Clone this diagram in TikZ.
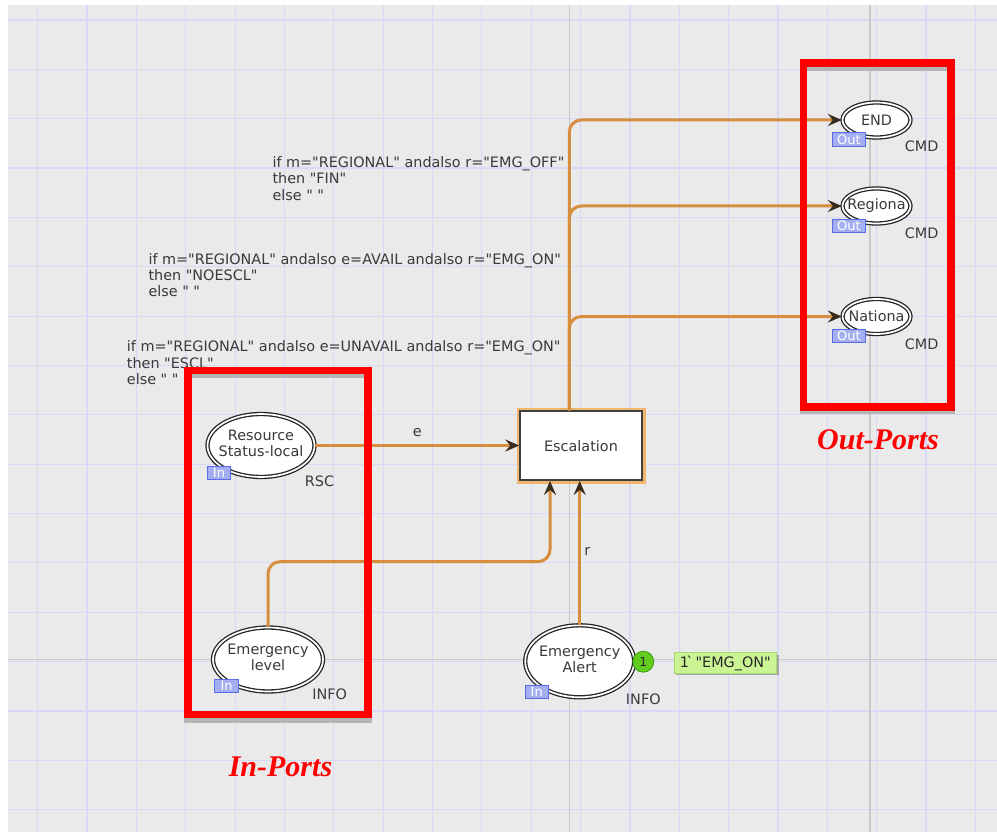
\documentclass[tikz,border=0pt]{standalone}
\usepackage{fontspec}
\newfontfamily\cpnfont{DejaVu Sans}[Ligatures=TeXOff]
\newfontfamily\portfont{Liberation Serif}
\usetikzlibrary{arrows.meta,shapes.geometric}
\definecolor{bggray}{HTML}{EAEAEA}
\definecolor{gridblue}{HTML}{D9D9F7}
\definecolor{majgray}{HTML}{C9C9C9}
\definecolor{arcorange}{HTML}{D68D3E}
\definecolor{tipdark}{HTML}{3A2C1C}
\definecolor{txtgray}{HTML}{3A3A3A}
\definecolor{tagfill}{HTML}{A3AFF2}
\definecolor{tagdraw}{HTML}{5A6CE6}
\definecolor{tokgreen}{HTML}{62CC1E}
\definecolor{tokedge}{HTML}{3E9A12}
\definecolor{markgreen}{HTML}{CBF595}
\definecolor{markedge}{HTML}{A6DA6A}
\definecolor{glow}{HTML}{F2A444}
\definecolor{selgray}{HTML}{B5B5B5}
\newcommand\cpnsize{\fontsize{14.4}{16.4}\selectfont}
\newcommand\cpntwo[2]{\makebox[0pt]{\begin{tabular}{@{}c@{}}#1\\#2\end{tabular}}}
\newcommand\cpnone[1]{\makebox[0pt]{#1}}
\newcommand\cpnthree[3]{\begin{tabular}[t]{@{}l@{}}#1\\#2\\#3\end{tabular}}
\begin{document}
\begin{tikzpicture}[x=1pt,y=-1pt,
  every node/.style={font=\cpnfont\cpnsize, text=txtgray, inner sep=0pt},
  place/.style={ellipse, draw=black!85, line width=1.3pt, double=white, double distance=1.7pt, fill=white},
  trans/.style={rectangle, draw=black!75, line width=1.5pt, fill=white, minimum width=122pt, minimum height=69pt, preaction={draw=glow, line width=7pt, opacity=0.75}},
  arc/.style={draw=arcorange, line width=3pt, rounded corners=12pt, -{Stealth[length=14pt,width=12pt,inset=5pt,color=tipdark,fill=tipdark]}},
  porttag/.style={rectangle, draw=tagdraw, fill=tagfill, line width=0.9pt, text=white, font=\cpnfont\fontsize{13}{13}\selectfont, minimum height=13.4pt},
  redbox/.style={draw=red, line width=7.2pt},
  portlbl/.style={text=red, font=\portfont\bfseries\itshape\fontsize{30}{32}\selectfont},
  gridline/.style={draw=gridblue, line width=1.2pt},
  majline/.style={draw=majgray, line width=1.3pt}
]
\useasboundingbox (0,0) rectangle (997,832);
\fill[white] (0,0) rectangle (997,832);
\fill[bggray] (8,5) rectangle (997,832);
\foreach \i in {0,...,19} \draw[gridline] ({37.7+49.35*\i},5) -- ({37.7+49.35*\i},832);
\foreach \j in {0,...,16} \draw[gridline] (8,{20+49.35*\j}) -- (997,{20+49.35*\j});
\draw[majline] (569.3,5) -- (569.3,832);
\draw[majline] (870,5) -- (870,832);
\draw[majline] (8,659.6) -- (997,659.6);

% inscriptions
\node[anchor=base west] (ins1) at (272.3,167.3) {\cpnthree{if m="REGIONAL" andalso r="EMG\_OFF"}{then "FIN"}{else " "}};
\node[anchor=base west] (ins2) at (148.3,264) {\cpnthree{if m="REGIONAL" andalso e=AVAIL andalso r="EMG\_ON"}{then "NOESCL"}{else " "}};
\node[anchor=base west] (ins3) at (126.7,351.7) {\cpnthree{if m="REGIONAL" andalso e=UNAVAIL andalso r="EMG\_ON"}{then "ESCL"}{else " "}};

% places
\node[place, minimum width=68pt, minimum height=35pt] (endp) at (876.5,120) {\cpnone{END}};
\node[place, minimum width=68pt, minimum height=35pt] (regp) at (876.5,206) {\cpnone{Regiona}};
\node[place, minimum width=68pt, minimum height=35pt] (natp) at (876.5,316.5) {\cpnone{Nationa}};
\node[place, minimum width=107pt, minimum height=63pt] (res) at (261,445.5) {\cpntwo{Resource}{Status-local}};
\node[place, minimum width=110pt, minimum height=64pt] (elev) at (268,659.5) {\cpntwo{Emergency}{level}};
\node[place, minimum width=109pt, minimum height=72pt] (alert) at (579.7,661.3) {\cpntwo{Emergency}{Alert}};

% transition
\node[trans] (esc) at (581,445.7) {Escalation};

% port tags
\node[porttag, minimum width=33.4pt] (tagend) at (849,139.4) {Out};
\node[porttag, minimum width=33.4pt] (tagreg) at (849,226) {Out};
\node[porttag, minimum width=33.4pt] (tagnat) at (849,336) {Out};
\node[porttag, minimum width=23.4pt] (tagres) at (219,473) {In};
\node[porttag, minimum width=23.4pt] (tagelev) at (226.6,685.7) {In};
\node[porttag, minimum width=23.4pt] (tagalert) at (536.7,691.7) {In};

% colour sets
\node (cs1) at (921.7,146.7) {CMD};
\node (cs2) at (921.7,233.3) {CMD};
\node (cs3) at (921.7,344) {CMD};
\node (cs4) at (319.5,481) {RSC};
\node (cs5) at (329.7,694) {INFO};
\node (cs6) at (643.3,699.5) {INFO};

% marking
\fill[black!35] (676,654.7) rectangle (778.7,675.3);
\node[rectangle, fill=markgreen, draw=markedge, line width=0.6pt, minimum width=102.7pt, minimum height=20.6pt, text=black!85] (mark) at (725.3,663) {1\`{}\hspace{2pt}"EMG\_ON"};
\node[circle, fill=tokgreen, draw=tokedge, line width=0.8pt, minimum size=21pt, text=black!85, font=\cpnfont\fontsize{12.5}{13}\selectfont] (tok) at (643.3,661.7) {1};

% arcs
\coordinate (vx) at (569.3,0);
\coordinate (lbend) at (550,561.7);
\draw[arc] (res.east) -- (res.east -| esc.west);
\draw[arc] (elev.north) |- (lbend) -- (lbend |- esc.south);
\draw[arc] (alert.north) -- (alert.north |- esc.south);
\draw[arc] (esc.north -| vx) |- (natp.west);
\draw[arc] (esc.north -| vx) |- (regp.west);
\draw[arc] (esc.north -| vx) |- (endp.west);
\node (elbl) at (417.3,432.7) {e};
\node (rlbl) at (587.3,551.7) {r};

% annotation boxes
\fill[selgray] (807.2,66.6) rectangle (947.3,71);
\fill[selgray] (800,410.6) rectangle (954.5,413.5);
\fill[selgray] (191.6,373.6) rectangle (364.4,378);
\fill[selgray] (184.4,718) rectangle (371.6,723);
\draw[redbox] (803.6,63) rectangle (950.9,407);
\draw[redbox] (188,370.3) rectangle (368,714.4);
\node[portlbl] (outlbl) at (878,440) {Out-Ports};
\node[portlbl] (inlbl) at (280.5,766.7) {In-Ports};
\end{tikzpicture}
\end{document}
